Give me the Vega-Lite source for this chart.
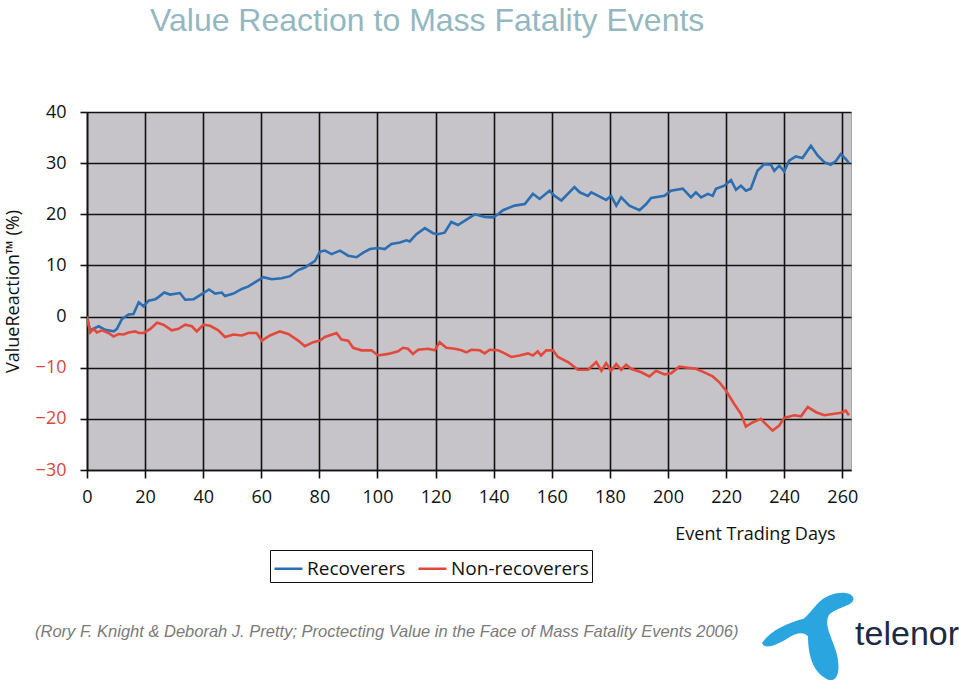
{
  "$schema": "https://vega.github.io/schema/vega-lite/v6.json",
  "width": 764,
  "height": 358,
  "autosize": {"type": "none"},
  "padding": {"left": 87, "top": 112, "right": 108, "bottom": 212},
  "background": "white",
  "title": {
    "text": "Value Reaction to Mass Fatality Events",
    "anchor": "start",
    "frame": "group",
    "dx": 63,
    "offset": 65,
    "font": "Liberation Sans",
    "fontSize": 32,
    "fontWeight": "normal",
    "color": "#93b8c1"
  },
  "config": {
    "view": {"fill": "#c6c4c8", "stroke": "#a8a8a8", "strokeWidth": 1},
    "axis": {
      "labelFont": "Open Sans",
      "labelFontSize": 18,
      "labelColor": "#111",
      "titleFont": "Open Sans",
      "titleFontSize": 18,
      "titleFontWeight": "normal",
      "titleColor": "#111",
      "gridColor": "#111",
      "gridWidth": 1.6,
      "gridOpacity": 1,
      "domainColor": "#111",
      "domainWidth": 1.6,
      "tickColor": "#111",
      "tickWidth": 1.6
    }
  },
  "layer": [
    {
      "data": {
        "values": [
          {"day": 0, "v": 0, "s": "Recoverers"},
          {"day": 1, "v": -2.7, "s": "Recoverers"},
          {"day": 4, "v": -1.9, "s": "Recoverers"},
          {"day": 6.3, "v": -2.6, "s": "Recoverers"},
          {"day": 9.2, "v": -2.9, "s": "Recoverers"},
          {"day": 10.3, "v": -2.4, "s": "Recoverers"},
          {"day": 12, "v": -0.5, "s": "Recoverers"},
          {"day": 14.3, "v": 0.4, "s": "Recoverers"},
          {"day": 16, "v": 0.5, "s": "Recoverers"},
          {"day": 17.8, "v": 2.8, "s": "Recoverers"},
          {"day": 19.5, "v": 2.0, "s": "Recoverers"},
          {"day": 21.2, "v": 3.1, "s": "Recoverers"},
          {"day": 23.5, "v": 3.4, "s": "Recoverers"},
          {"day": 24.6, "v": 3.8, "s": "Recoverers"},
          {"day": 26.6, "v": 4.7, "s": "Recoverers"},
          {"day": 28.6, "v": 4.3, "s": "Recoverers"},
          {"day": 32, "v": 4.6, "s": "Recoverers"},
          {"day": 33.8, "v": 3.3, "s": "Recoverers"},
          {"day": 36.7, "v": 3.4, "s": "Recoverers"},
          {"day": 39.5, "v": 4.4, "s": "Recoverers"},
          {"day": 42, "v": 5.3, "s": "Recoverers"},
          {"day": 44.1, "v": 4.5, "s": "Recoverers"},
          {"day": 46.4, "v": 4.7, "s": "Recoverers"},
          {"day": 47.5, "v": 4.0, "s": "Recoverers"},
          {"day": 50.4, "v": 4.5, "s": "Recoverers"},
          {"day": 53.3, "v": 5.4, "s": "Recoverers"},
          {"day": 55.6, "v": 5.9, "s": "Recoverers"},
          {"day": 57.8, "v": 6.7, "s": "Recoverers"},
          {"day": 60.7, "v": 7.7, "s": "Recoverers"},
          {"day": 63.6, "v": 7.3, "s": "Recoverers"},
          {"day": 67, "v": 7.5, "s": "Recoverers"},
          {"day": 69.9, "v": 7.9, "s": "Recoverers"},
          {"day": 72.7, "v": 9.1, "s": "Recoverers"},
          {"day": 75, "v": 9.6, "s": "Recoverers"},
          {"day": 78.5, "v": 10.9, "s": "Recoverers"},
          {"day": 80.2, "v": 12.7, "s": "Recoverers"},
          {"day": 81.9, "v": 12.9, "s": "Recoverers"},
          {"day": 84.2, "v": 12.2, "s": "Recoverers"},
          {"day": 87.1, "v": 12.9, "s": "Recoverers"},
          {"day": 89.9, "v": 11.9, "s": "Recoverers"},
          {"day": 92.8, "v": 11.6, "s": "Recoverers"},
          {"day": 95.1, "v": 12.5, "s": "Recoverers"},
          {"day": 97.4, "v": 13.2, "s": "Recoverers"},
          {"day": 100.2, "v": 13.4, "s": "Recoverers"},
          {"day": 102.5, "v": 13.2, "s": "Recoverers"},
          {"day": 104.8, "v": 14.2, "s": "Recoverers"},
          {"day": 107.7, "v": 14.5, "s": "Recoverers"},
          {"day": 110, "v": 14.9, "s": "Recoverers"},
          {"day": 111.1, "v": 14.7, "s": "Recoverers"},
          {"day": 113.4, "v": 16.1, "s": "Recoverers"},
          {"day": 116.3, "v": 17.3, "s": "Recoverers"},
          {"day": 119.1, "v": 16.3, "s": "Recoverers"},
          {"day": 120.8, "v": 16.1, "s": "Recoverers"},
          {"day": 123.1, "v": 16.4, "s": "Recoverers"},
          {"day": 125.4, "v": 18.5, "s": "Recoverers"},
          {"day": 127.7, "v": 17.9, "s": "Recoverers"},
          {"day": 130.5, "v": 18.9, "s": "Recoverers"},
          {"day": 133.5, "v": 20.0, "s": "Recoverers"},
          {"day": 136.9, "v": 19.5, "s": "Recoverers"},
          {"day": 139.8, "v": 19.4, "s": "Recoverers"},
          {"day": 141.5, "v": 20.0, "s": "Recoverers"},
          {"day": 143.2, "v": 20.8, "s": "Recoverers"},
          {"day": 147.2, "v": 21.7, "s": "Recoverers"},
          {"day": 150.7, "v": 22.0, "s": "Recoverers"},
          {"day": 153.5, "v": 24.0, "s": "Recoverers"},
          {"day": 155.8, "v": 23.0, "s": "Recoverers"},
          {"day": 159.2, "v": 24.6, "s": "Recoverers"},
          {"day": 161, "v": 23.6, "s": "Recoverers"},
          {"day": 163.3, "v": 22.7, "s": "Recoverers"},
          {"day": 167.8, "v": 25.3, "s": "Recoverers"},
          {"day": 169.6, "v": 24.3, "s": "Recoverers"},
          {"day": 172.4, "v": 23.6, "s": "Recoverers"},
          {"day": 173.6, "v": 24.3, "s": "Recoverers"},
          {"day": 177, "v": 23.3, "s": "Recoverers"},
          {"day": 178.7, "v": 22.8, "s": "Recoverers"},
          {"day": 180.4, "v": 23.6, "s": "Recoverers"},
          {"day": 182.2, "v": 21.7, "s": "Recoverers"},
          {"day": 183.9, "v": 23.3, "s": "Recoverers"},
          {"day": 186.7, "v": 21.7, "s": "Recoverers"},
          {"day": 190.2, "v": 20.8, "s": "Recoverers"},
          {"day": 192.5, "v": 22.0, "s": "Recoverers"},
          {"day": 194.2, "v": 23.2, "s": "Recoverers"},
          {"day": 198.8, "v": 23.6, "s": "Recoverers"},
          {"day": 201, "v": 24.6, "s": "Recoverers"},
          {"day": 205.1, "v": 25.0, "s": "Recoverers"},
          {"day": 207.9, "v": 23.3, "s": "Recoverers"},
          {"day": 209.6, "v": 24.3, "s": "Recoverers"},
          {"day": 211.4, "v": 23.3, "s": "Recoverers"},
          {"day": 213.7, "v": 24.0, "s": "Recoverers"},
          {"day": 215.4, "v": 23.6, "s": "Recoverers"},
          {"day": 216.5, "v": 25.0, "s": "Recoverers"},
          {"day": 219.4, "v": 25.6, "s": "Recoverers"},
          {"day": 221.7, "v": 26.7, "s": "Recoverers"},
          {"day": 223.4, "v": 24.8, "s": "Recoverers"},
          {"day": 225.1, "v": 25.6, "s": "Recoverers"},
          {"day": 226.8, "v": 24.6, "s": "Recoverers"},
          {"day": 228.5, "v": 25.0, "s": "Recoverers"},
          {"day": 230.8, "v": 28.5, "s": "Recoverers"},
          {"day": 233.1, "v": 29.8, "s": "Recoverers"},
          {"day": 235.4, "v": 29.7, "s": "Recoverers"},
          {"day": 236.6, "v": 28.5, "s": "Recoverers"},
          {"day": 238.3, "v": 29.5, "s": "Recoverers"},
          {"day": 240, "v": 28.4, "s": "Recoverers"},
          {"day": 241.7, "v": 30.5, "s": "Recoverers"},
          {"day": 244, "v": 31.3, "s": "Recoverers"},
          {"day": 246.3, "v": 31.0, "s": "Recoverers"},
          {"day": 249.2, "v": 33.4, "s": "Recoverers"},
          {"day": 251.5, "v": 31.5, "s": "Recoverers"},
          {"day": 253.8, "v": 30.2, "s": "Recoverers"},
          {"day": 256, "v": 29.7, "s": "Recoverers"},
          {"day": 257.8, "v": 30.4, "s": "Recoverers"},
          {"day": 259.5, "v": 31.8, "s": "Recoverers"},
          {"day": 261.2, "v": 30.8, "s": "Recoverers"},
          {"day": 262.3, "v": 30.0, "s": "Recoverers"},
          {"day": 0, "v": 0, "s": "Non-recoverers"},
          {"day": 1.1, "v": -3.1, "s": "Non-recoverers"},
          {"day": 2.3, "v": -2.4, "s": "Non-recoverers"},
          {"day": 3.4, "v": -3.1, "s": "Non-recoverers"},
          {"day": 5.2, "v": -2.7, "s": "Non-recoverers"},
          {"day": 7.4, "v": -3.2, "s": "Non-recoverers"},
          {"day": 9.2, "v": -3.9, "s": "Non-recoverers"},
          {"day": 10.9, "v": -3.4, "s": "Non-recoverers"},
          {"day": 12.6, "v": -3.5, "s": "Non-recoverers"},
          {"day": 14.3, "v": -3.1, "s": "Non-recoverers"},
          {"day": 16.6, "v": -2.9, "s": "Non-recoverers"},
          {"day": 17.8, "v": -3.2, "s": "Non-recoverers"},
          {"day": 19.5, "v": -3.2, "s": "Non-recoverers"},
          {"day": 21.8, "v": -2.4, "s": "Non-recoverers"},
          {"day": 24.1, "v": -1.2, "s": "Non-recoverers"},
          {"day": 26.3, "v": -1.6, "s": "Non-recoverers"},
          {"day": 29.2, "v": -2.7, "s": "Non-recoverers"},
          {"day": 31.5, "v": -2.4, "s": "Non-recoverers"},
          {"day": 33.8, "v": -1.6, "s": "Non-recoverers"},
          {"day": 36.1, "v": -1.9, "s": "Non-recoverers"},
          {"day": 37.8, "v": -2.9, "s": "Non-recoverers"},
          {"day": 40.1, "v": -1.6, "s": "Non-recoverers"},
          {"day": 42.4, "v": -1.8, "s": "Non-recoverers"},
          {"day": 45.2, "v": -2.7, "s": "Non-recoverers"},
          {"day": 47.5, "v": -4.0, "s": "Non-recoverers"},
          {"day": 50.4, "v": -3.5, "s": "Non-recoverers"},
          {"day": 53.3, "v": -3.7, "s": "Non-recoverers"},
          {"day": 55.6, "v": -3.2, "s": "Non-recoverers"},
          {"day": 58.4, "v": -3.2, "s": "Non-recoverers"},
          {"day": 60.2, "v": -4.7, "s": "Non-recoverers"},
          {"day": 63, "v": -3.7, "s": "Non-recoverers"},
          {"day": 66.4, "v": -2.9, "s": "Non-recoverers"},
          {"day": 69.3, "v": -3.4, "s": "Non-recoverers"},
          {"day": 72.7, "v": -4.7, "s": "Non-recoverers"},
          {"day": 75, "v": -5.8, "s": "Non-recoverers"},
          {"day": 77.9, "v": -5.0, "s": "Non-recoverers"},
          {"day": 80.2, "v": -4.7, "s": "Non-recoverers"},
          {"day": 81.9, "v": -4.0, "s": "Non-recoverers"},
          {"day": 85.9, "v": -3.2, "s": "Non-recoverers"},
          {"day": 87.6, "v": -4.5, "s": "Non-recoverers"},
          {"day": 89.9, "v": -4.7, "s": "Non-recoverers"},
          {"day": 91.6, "v": -6.1, "s": "Non-recoverers"},
          {"day": 94.5, "v": -6.6, "s": "Non-recoverers"},
          {"day": 97.9, "v": -6.6, "s": "Non-recoverers"},
          {"day": 100.2, "v": -7.6, "s": "Non-recoverers"},
          {"day": 103.7, "v": -7.3, "s": "Non-recoverers"},
          {"day": 107.1, "v": -6.8, "s": "Non-recoverers"},
          {"day": 108.8, "v": -6.1, "s": "Non-recoverers"},
          {"day": 110.5, "v": -6.3, "s": "Non-recoverers"},
          {"day": 112.2, "v": -7.3, "s": "Non-recoverers"},
          {"day": 114, "v": -6.5, "s": "Non-recoverers"},
          {"day": 117.4, "v": -6.3, "s": "Non-recoverers"},
          {"day": 119.7, "v": -6.6, "s": "Non-recoverers"},
          {"day": 121.4, "v": -5.0, "s": "Non-recoverers"},
          {"day": 123.7, "v": -6.1, "s": "Non-recoverers"},
          {"day": 126.6, "v": -6.3, "s": "Non-recoverers"},
          {"day": 128.9, "v": -6.6, "s": "Non-recoverers"},
          {"day": 130.6, "v": -7.0, "s": "Non-recoverers"},
          {"day": 132.3, "v": -6.5, "s": "Non-recoverers"},
          {"day": 135.2, "v": -6.6, "s": "Non-recoverers"},
          {"day": 136.9, "v": -7.2, "s": "Non-recoverers"},
          {"day": 138.6, "v": -6.5, "s": "Non-recoverers"},
          {"day": 141.5, "v": -6.6, "s": "Non-recoverers"},
          {"day": 143.8, "v": -7.2, "s": "Non-recoverers"},
          {"day": 146.1, "v": -7.9, "s": "Non-recoverers"},
          {"day": 148.9, "v": -7.6, "s": "Non-recoverers"},
          {"day": 151.8, "v": -7.2, "s": "Non-recoverers"},
          {"day": 153.5, "v": -7.6, "s": "Non-recoverers"},
          {"day": 155.2, "v": -6.8, "s": "Non-recoverers"},
          {"day": 156.3, "v": -7.6, "s": "Non-recoverers"},
          {"day": 158.1, "v": -6.6, "s": "Non-recoverers"},
          {"day": 160.4, "v": -6.6, "s": "Non-recoverers"},
          {"day": 162.1, "v": -7.9, "s": "Non-recoverers"},
          {"day": 165.6, "v": -8.9, "s": "Non-recoverers"},
          {"day": 169, "v": -10.4, "s": "Non-recoverers"},
          {"day": 172.5, "v": -10.4, "s": "Non-recoverers"},
          {"day": 175.3, "v": -8.9, "s": "Non-recoverers"},
          {"day": 177.1, "v": -10.6, "s": "Non-recoverers"},
          {"day": 178.7, "v": -9.1, "s": "Non-recoverers"},
          {"day": 180.4, "v": -10.6, "s": "Non-recoverers"},
          {"day": 182.2, "v": -9.3, "s": "Non-recoverers"},
          {"day": 183.9, "v": -10.4, "s": "Non-recoverers"},
          {"day": 185.6, "v": -9.4, "s": "Non-recoverers"},
          {"day": 187.3, "v": -10.2, "s": "Non-recoverers"},
          {"day": 190.8, "v": -10.9, "s": "Non-recoverers"},
          {"day": 193.6, "v": -11.7, "s": "Non-recoverers"},
          {"day": 195.9, "v": -10.6, "s": "Non-recoverers"},
          {"day": 198.8, "v": -11.3, "s": "Non-recoverers"},
          {"day": 201.1, "v": -11.1, "s": "Non-recoverers"},
          {"day": 203.9, "v": -9.8, "s": "Non-recoverers"},
          {"day": 206.8, "v": -10.0, "s": "Non-recoverers"},
          {"day": 209.6, "v": -10.2, "s": "Non-recoverers"},
          {"day": 212.5, "v": -10.9, "s": "Non-recoverers"},
          {"day": 215.4, "v": -11.7, "s": "Non-recoverers"},
          {"day": 217.6, "v": -12.8, "s": "Non-recoverers"},
          {"day": 220, "v": -14.5, "s": "Non-recoverers"},
          {"day": 222.8, "v": -17.1, "s": "Non-recoverers"},
          {"day": 225.1, "v": -19.0, "s": "Non-recoverers"},
          {"day": 226.8, "v": -21.5, "s": "Non-recoverers"},
          {"day": 229.1, "v": -20.7, "s": "Non-recoverers"},
          {"day": 230.8, "v": -20.3, "s": "Non-recoverers"},
          {"day": 232, "v": -20.0, "s": "Non-recoverers"},
          {"day": 233.1, "v": -20.7, "s": "Non-recoverers"},
          {"day": 236, "v": -22.3, "s": "Non-recoverers"},
          {"day": 238.3, "v": -21.3, "s": "Non-recoverers"},
          {"day": 240, "v": -19.8, "s": "Non-recoverers"},
          {"day": 243.5, "v": -19.3, "s": "Non-recoverers"},
          {"day": 245.8, "v": -19.5, "s": "Non-recoverers"},
          {"day": 248.1, "v": -17.7, "s": "Non-recoverers"},
          {"day": 251, "v": -18.7, "s": "Non-recoverers"},
          {"day": 253.8, "v": -19.3, "s": "Non-recoverers"},
          {"day": 257.3, "v": -19.0, "s": "Non-recoverers"},
          {"day": 259.5, "v": -18.8, "s": "Non-recoverers"},
          {"day": 261.2, "v": -18.4, "s": "Non-recoverers"},
          {"day": 262.3, "v": -19.3, "s": "Non-recoverers"}
        ]
      },
      "mark": {"type": "line", "strokeWidth": 2.6, "clip": true},
      "encoding": {
        "x": {
          "field": "day",
          "type": "quantitative",
          "scale": {"domain": [0, 263], "nice": false, "zero": false},
          "axis": {
            "title": "Event Trading Days",
            "values": [0, 20, 40, 60, 80, 100, 120, 140, 160, 180, 200, 220, 240, 260],
            "labelFlush": false,
            "tickSize": 8,
            "labelPadding": 10,
            "titleX": 748,
            "titleY": 55,
            "titleAlign": "right",
            "titleAnchor": null
          }
        },
        "y": {
          "field": "v",
          "type": "quantitative",
          "scale": {"domain": [-30, 40], "nice": false},
          "axis": {
            "title": "ValueReaction™ (%)",
            "values": [-30, -20, -10, 0, 10, 20, 30, 40],
            "tickSize": 7,
            "labelPadding": 14,
            "titleX": -74,
            "titleBaseline": "middle",
            "labelColor": {"condition": {"test": "datum.value < 0", "value": "#d9483b"}, "value": "#111"}
          }
        },
        "color": {
          "field": "s",
          "type": "nominal",
          "scale": {"domain": ["Recoverers", "Non-recoverers"], "range": ["#2b6eb2", "#e2493a"]},
          "legend": {
            "orient": "none",
            "legendX": 183,
            "legendY": 438,
            "direction": "horizontal",
            "title": null,
            "symbolType": "stroke",
            "symbolSize": 784,
            "symbolStrokeWidth": 2.5,
            "labelFont": "Open Sans",
            "labelFontSize": 19,
            "labelColor": "#111",
            "labelOffset": 3,
            "fillColor": "white",
            "strokeColor": "#111",
            "padding": 3,
            "columnPadding": 7
          }
        }
      }
    },
    {
      "data": {"values": [{"label": "(Rory F. Knight & Deborah J. Pretty;  Proctecting Value in the Face of Mass Fatality  Events 2006)"}]},
      "mark": {"type": "text", "align": "left", "baseline": "alphabetic", "font": "Liberation Sans", "fontStyle": "italic", "fontSize": 16.5, "color": "#7a7a7a"},
      "encoding": {
        "x": {"datum": -17.9, "type": "quantitative"},
        "y": {"datum": -62.7, "type": "quantitative"},
        "text": {"field": "label"}
      }
    },
    {
      "data": {"values": [{"label": "logo"}]},
      "mark": {
        "type": "point",
        "filled": true,
        "opacity": 1,
        "color": "#2aa5e0",
        "size": 8464,
        "shape": "M 0.98 -0.85 C 0.9 -1.0 0.5 -0.98 0.25 -0.75 C 0.1 -0.6 0.0 -0.45 -0.1 -0.38 C -0.4 -0.3 -0.8 -0.15 -1.0 0.15 C -0.95 0.3 -0.7 0.2 -0.45 0.05 C -0.25 -0.08 -0.1 -0.1 0.0 0.0 C 0.0 0.4 0.1 0.8 0.45 0.95 C 0.7 1.0 0.7 0.6 0.6 0.3 C 0.5 0.0 0.35 -0.25 0.45 -0.45 C 0.6 -0.65 1.05 -0.65 0.98 -0.85 Z"
      },
      "encoding": {
        "x": {"datum": 248.2, "type": "quantitative"},
        "y": {"datum": -62.5, "type": "quantitative"}
      }
    },
    {
      "data": {"values": [{"label": "telenor"}]},
      "mark": {"type": "text", "align": "left", "baseline": "alphabetic", "font": "Liberation Sans", "fontSize": 34, "color": "#1d2a44"},
      "encoding": {
        "x": {"datum": 264.4, "type": "quantitative"},
        "y": {"datum": -64.2, "type": "quantitative"},
        "text": {"field": "label"}
      }
    }
  ]
}
